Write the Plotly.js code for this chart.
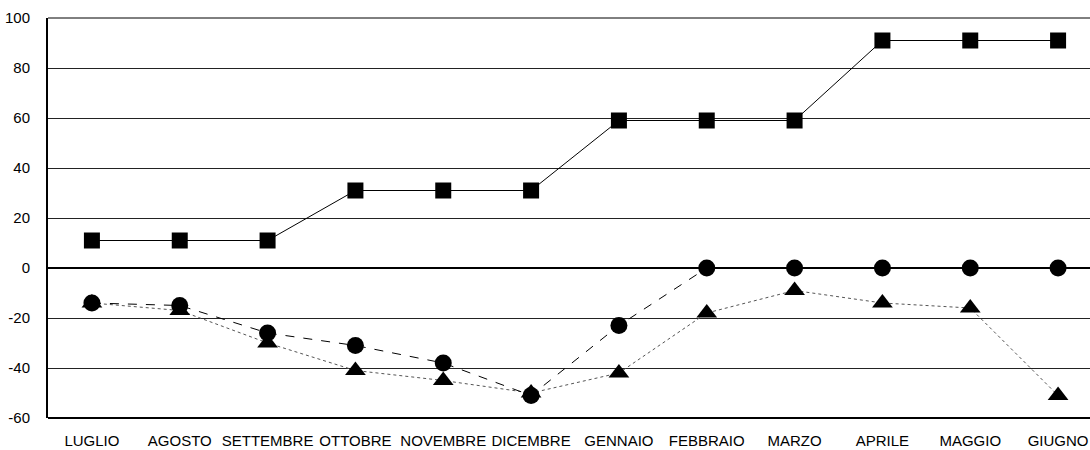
<!DOCTYPE html>
<html>
<head>
<meta charset="utf-8">
<script src="https://cdn.plot.ly/plotly-3.0.1.min.js"></script>
<style>html,body{margin:0;padding:0;overflow:hidden;background:#fff}</style>
</head>
<body>
<div id="chart" style="width:1102px;height:450px"></div>
<script>
const months = ["LUGLIO","AGOSTO","SETTEMBRE","OTTOBRE","NOVEMBRE","DICEMBRE","GENNAIO","FEBBRAIO","MARZO","APRILE","MAGGIO","GIUGNO"];
const squares = [11, 11, 11, 31, 31, 31, 59, 59, 59, 91, 91, 91];
const circles = [-14, -15, -26, -31, -38, -51, -23, 0, 0, 0, 0, 0];
const triangles = [-14, -17, -30, -41, -45, -50, -42, -18, -9, -14, -16, -51];
const yTicks = [-60, -40, -20, 0, 20, 40, 60, 80, 100];

const traces = [
  {x: months, y: triangles, type: "scatter", mode: "lines+markers",
   line: {color: "#555", width: 1, dash: "dot"},
   marker: {symbol: "triangle-up", size: 18, color: "#000"}},
  {x: months, y: circles, type: "scatter", mode: "lines+markers",
   line: {color: "#000", width: 1, dash: "dash"},
   marker: {symbol: "circle", size: 17, color: "#000"}},
  {x: months, y: squares, type: "scatter", mode: "lines+markers",
   line: {color: "#000", width: 1},
   marker: {symbol: "square", size: 16, color: "#000"}}
];

const layout = {
  width: 1102, height: 450,
  margin: {l: 48, r: 0, t: 18, b: 32},
  showlegend: false,
  paper_bgcolor: "#fff", plot_bgcolor: "#fff",
  font: {family: "Liberation Sans, Arial, sans-serif", size: 15, color: "#000"},
  xaxis: {
    type: "category", range: [-0.5, 11.5], showgrid: false, zeroline: false,
    showline: false, ticks: "", ticklabelstandoff: 12,
    tickfont: {size: 15}
  },
  yaxis: {
    range: [-60, 100], tickvals: yTicks, ticktext: yTicks.map(String),
    showgrid: true, gridcolor: "#222", gridwidth: 1,
    zeroline: true, zerolinecolor: "#000", zerolinewidth: 2,
    showline: true, linecolor: "#000", linewidth: 2,
    ticks: "", ticklabelstandoff: 13, tickfont: {size: 15}
  },
  shapes: [
    {type: "line", xref: "paper", yref: "paper", x0: 0, x1: 1, y0: 0, y1: 0, line: {color: "#000", width: 2}},
    {type: "line", xref: "paper", yref: "paper", x0: 0, x1: 1, y0: 1, y1: 1, line: {color: "#000", width: 1}}
  ]
};

Plotly.newPlot("chart", traces, layout, {displayModeBar: false, staticPlot: true});
</script>
</body>
</html>
